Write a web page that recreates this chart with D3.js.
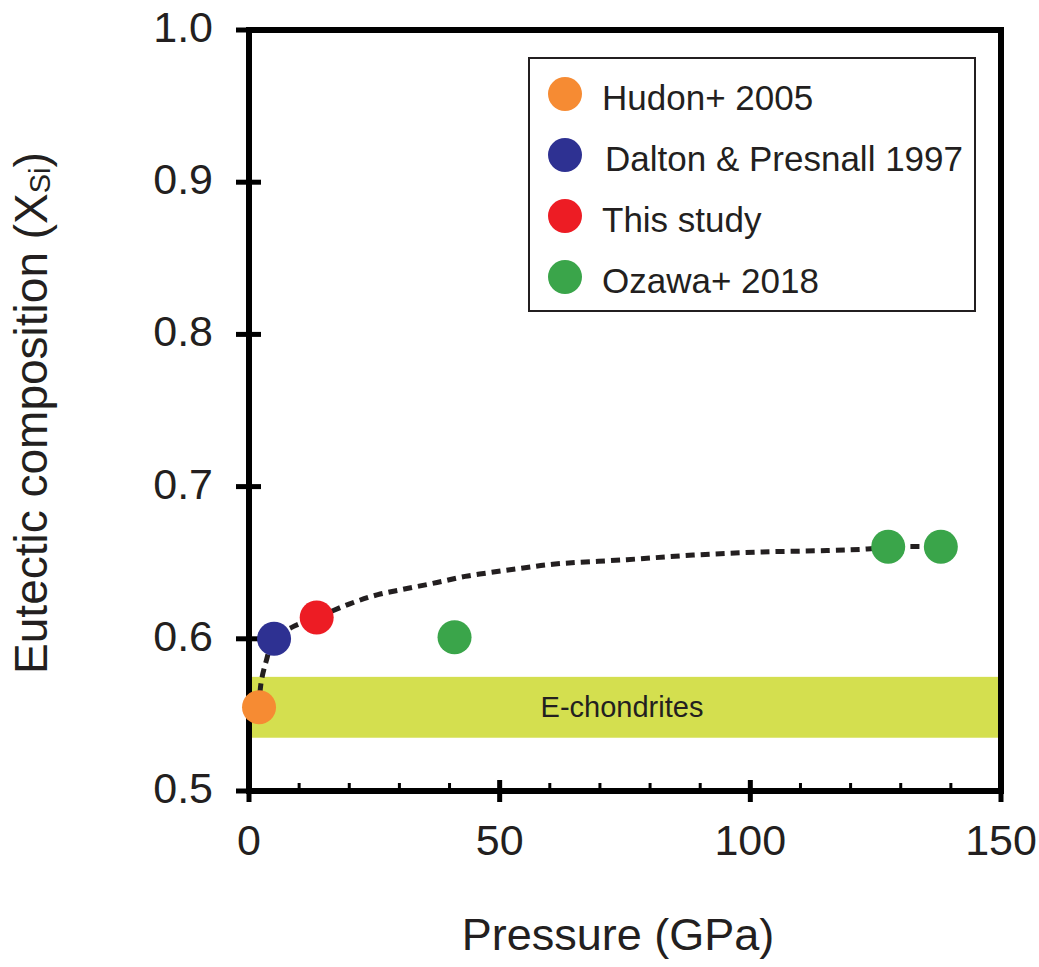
<!DOCTYPE html>
<html>
<head>
<meta charset="utf-8">
<script src="https://cdn.jsdelivr.net/npm/d3@7"></script>
<style>
  html, body { margin: 0; padding: 0; background: #fff; }
  svg { display: block; font-family: Arial, "Liberation Sans", Helvetica, sans-serif; }
</style>
</head>
<body>
<svg id="chart" width="1039" height="967"></svg>
<script>
// ---------- data ----------
const xTicks = [0, 50, 100, 150];
const xMinorTicks = [10, 20, 30, 40, 60, 70, 80, 90, 110, 120, 130, 140];
const yTicks = [0.5, 0.6, 0.7, 0.8, 0.9, 1.0];

const seriesNames = ["Hudon+ 2005", "Dalton & Presnall 1997", "This study", "Ozawa+ 2018"];
const seriesColors = ["#f68b33", "#2e3192", "#ed1c24", "#3aa54a"];

const hudonP = [2.0];        const hudonX = [0.555];
const daltonP = [5.0];       const daltonX = [0.600];
const thisStudyP = [13.5];   const thisStudyX = [0.614];
const ozawaP = [41.0, 127.5, 138.0]; const ozawaX = [0.601, 0.6605, 0.6605];

// dashed trend curve
const curveP = [2.0, 2.4, 3.4, 5.0, 8.8, 13.5, 20.1, 25.7, 31.5, 37.5, 43.1, 49.1, 54.7, 60.6, 75.4, 88.6, 101.9, 115.3, 123.3, 127.5, 138.0];
const curveX = [0.555, 0.571, 0.585, 0.600, 0.608, 0.614, 0.623, 0.629, 0.633, 0.637, 0.641, 0.644, 0.6465, 0.649, 0.652, 0.655, 0.657, 0.658, 0.659, 0.6605, 0.6605];

// E-chondrites band
const bandP = [0, 150];
const bandX = [0.535, 0.575];
const bandLabel = "E-chondrites";

// ---------- layout ----------
const svg = d3.select("#chart");
const W = 1039, H = 967;
const margin = { left: 249, right: 38, top: 30, bottom: 176 };
const x = d3.scaleLinear().domain([0, 150]).range([margin.left, W - margin.right]);
const y = d3.scaleLinear().domain([0.5, 1.0]).range([H - margin.bottom, margin.top]);
const ink = "#231f20";

// band
svg.append("rect")
  .attr("x", x(bandP[0])).attr("width", x(bandP[1]) - x(bandP[0]))
  .attr("y", y(bandX[1])).attr("height", y(bandX[0]) - y(bandX[1]))
  .attr("fill", "#d4df4f");
svg.append("text")
  .attr("x", 622).attr("y", (y(bandX[0]) + y(bandX[1])) / 2 + 10)
  .attr("text-anchor", "middle").attr("font-size", 29).attr("fill", ink)
  .text(bandLabel);

// frame
const axW = 6;
svg.append("rect")
  .attr("x", x(0)).attr("y", y(1.0))
  .attr("width", x(150) - x(0)).attr("height", y(0.5) - y(1.0))
  .attr("fill", "none").attr("stroke", "#000").attr("stroke-width", axW);

// y ticks (cross the axis)
svg.selectAll("line.ytick").data(yTicks).enter().append("line")
  .attr("x1", x(0) - 13).attr("x2", d => (d === 1.0 ? x(0) : x(0) + 12))
  .attr("y1", d => y(d)).attr("y2", d => y(d))
  .attr("stroke", "#000").attr("stroke-width", 5);
svg.selectAll("text.ylab").data(yTicks).enter().append("text")
  .attr("x", 213).attr("y", d => y(d)).attr("dy", "0.28em")
  .attr("text-anchor", "end").attr("font-size", 43).attr("fill", ink)
  .text(d3.format(".1f"));

// x ticks
svg.selectAll("line.xtick").data(xTicks).enter().append("line")
  .attr("x1", d => x(d)).attr("x2", d => x(d))
  .attr("y1", y(0.5) + 11).attr("y2", d => (d === 0 || d === 150 ? y(0.5) : y(0.5) - 11))
  .attr("stroke", "#000").attr("stroke-width", 5);
svg.selectAll("line.xminor").data(xMinorTicks).enter().append("line")
  .attr("x1", d => x(d)).attr("x2", d => x(d))
  .attr("y1", y(0.5)).attr("y2", y(0.5) - 8)
  .attr("stroke", "#000").attr("stroke-width", 3);
svg.selectAll("text.xlab").data(xTicks).enter().append("text")
  .attr("x", d => x(d)).attr("y", 855)
  .attr("text-anchor", "middle").attr("font-size", 43).attr("fill", ink)
  .text(d => d);

// axis titles
svg.append("text")
  .attr("x", 618).attr("y", 950)
  .attr("text-anchor", "middle").attr("font-size", 45).attr("fill", ink)
  .text("Pressure (GPa)");
const yt = svg.append("text")
  .attr("transform", "translate(47,413) rotate(-90)")
  .attr("text-anchor", "middle").attr("font-size", 46).attr("fill", ink);
yt.append("tspan").text("Eutectic composition (X");
yt.append("tspan").attr("font-size", 29).attr("dy", 3).text("Si");
yt.append("tspan").attr("dy", -3).text(")");

// dashed curve
const curveData = curveP.map((p, i) => [p, curveX[i]]);
svg.append("path")
  .datum(curveData)
  .attr("d", d3.line().x(d => x(d[0])).y(d => y(d[1])).curve(d3.curveCatmullRom.alpha(0.5)))
  .attr("fill", "none").attr("stroke", ink).attr("stroke-width", 5)
  .attr("stroke-dasharray", "9 6");

// points
const series = [
  { P: hudonP, X: hudonX },
  { P: daltonP, X: daltonX },
  { P: thisStudyP, X: thisStudyX },
  { P: ozawaP, X: ozawaX }
];
const r = 17;
series.forEach((s, si) => {
  svg.append("g").selectAll("circle").data(s.P.map((p, i) => [p, s.X[i]])).enter()
    .append("circle")
    .attr("cx", d => x(d[0])).attr("cy", d => y(d[1])).attr("r", r)
    .attr("fill", seriesColors[si]);
});

// legend
const lg = svg.append("g");
lg.append("rect").attr("x", 529).attr("y", 58).attr("width", 446).attr("height", 253)
  .attr("fill", "#fff").attr("stroke", ink).attr("stroke-width", 2);
const ly = d3.scalePoint().domain(seriesNames).range([94, 277]);
seriesNames.forEach((name, i) => {
  lg.append("circle").attr("cx", 565).attr("cy", ly(name)).attr("r", r).attr("fill", seriesColors[i]);
  lg.append("text").attr("x", i === 1 ? 605 : 602).attr("y", ly(name) + 16)
    .attr("font-size", 35).attr("fill", ink).text(name);
});
</script>
</body>
</html>
